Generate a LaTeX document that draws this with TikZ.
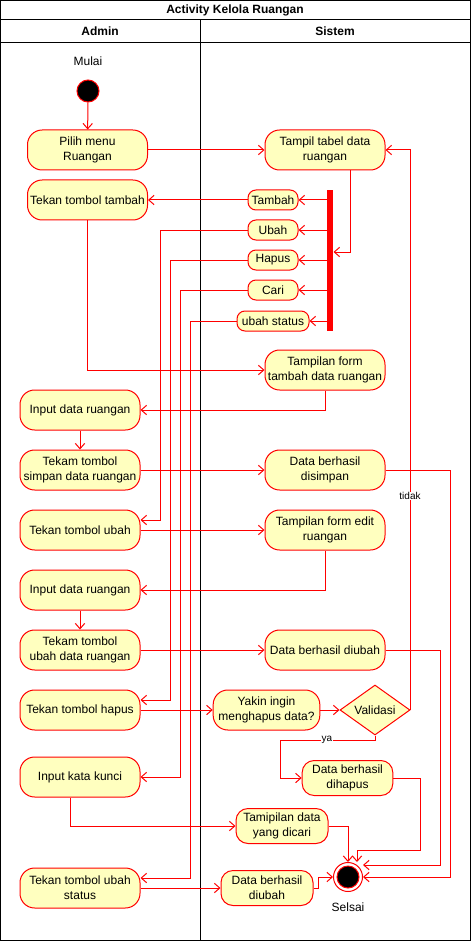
\documentclass[tikz,border=0pt]{standalone}
\usepackage{fontspec}
\setmainfont{Liberation Sans}
\usepackage{tikz}
\usetikzlibrary{arrows.meta, positioning, shapes.geometric}
\definecolor{lanered}{rgb}{1, 0, 0}
\definecolor{nodefill}{rgb}{1, 1, 0.75}

\begin{document}
\begin{tikzpicture}[x=0.75pt, y=-0.75pt, line width=0.75pt,
		every node/.style={font=\fontsize{9}{11.25}\selectfont},
		act/.style={draw=lanered, fill=nodefill, rounded corners=11pt, minimum width=90pt, minimum height=30pt, align=center, inner sep=1pt},
		actsmall/.style={act, rounded corners=9pt, minimum width=69pt, minimum height=26.25pt},
		opt/.style={draw=lanered, fill=nodefill, rounded corners=6pt, minimum width=37.5pt, minimum height=15pt, inner sep=1pt},
		flow/.style={draw=lanered, -{Straight Barb[length=4pt, width=7pt]}},
		head/.style={font=\fontsize{9}{11.25}\selectfont\bfseries},
		guard/.style={fill=white, inner sep=0.5pt, font=\fontsize{7.5}{9}\selectfont}]
		\useasboundingbox (0,0) rectangle (471,941);
		
		% lanes
		\draw (0.5,0.5) rectangle (470,940);
		\draw (0.5,20) -- (470,20);
		\draw (0.5,43) -- (470,43);
		\draw (200,20) -- (200,940);
		\node [head] (judul) at (235,10) {Activity Kelola Ruangan};
		\node [head] (admin) at (100,31.5) {Admin};
		\node [head] (sistem) at (335,31.5) {Sistem};
		
		% admin
		\node (mulai) at (88,61) {Mulai};
		\node [circle, fill=black, draw=lanered, minimum size=16.5pt, inner sep=0] (start) at (88,91) {};
		\node [act] (pilih) at (87.5,150) {Pilih menu\\Ruangan};
		\node [act] (ttambah) at (87.5,200) {Tekan tombol tambah};
		\node [act] (input1) at (80,410) {Input data ruangan};
		\node [act] (simpan) at (80,470) {Tekam tombol\\simpan data ruangan};
		\node [act] (tubah) at (80,530) {Tekan tombol ubah};
		\node [act] (input2) at (80,590) {Input data ruangan};
		\node [act] (tsubah) at (80,650) {Tekam tombol\\ubah data ruangan};
		\node [act] (thapus) at (80,710) {Tekan tombol hapus};
		\node [act] (kunci) at (80,777) {Input kata kunci};
		\node [act] (tstatus) at (80,888) {Tekan tombol ubah\\status};
		
		% sistem
		\node [act] (tampil) at (325,150) {Tampil tabel data\\ruangan};
		\node [fill=lanered, minimum width=4.5pt, minimum height=105.75pt, inner sep=0] (bar) at (330,260.5) {};
		\node [opt] (tambah) at (273,200) {Tambah};
		\node [opt] (ubah) at (273,230) {Ubah};
		\node [opt] (hapus) at (273,260) {Hapus};
		\node [opt] (cari) at (273,290) {Cari};
		\node [opt, minimum width=54pt] (ustatus) at (273,321) {ubah status};
		\node [act] (formtambah) at (325,370) {Tampilan form\\tambah data ruangan};
		\node [act] (disimpan) at (325,470) {Data berhasil\\disimpan};
		\node [act] (formedit) at (325,530) {Tampilan form edit\\ruangan};
		\node [act] (diubah) at (325,650) {Data berhasil diubah};
		\node [act, minimum width=80pt] (yakin) at (266.5,710) {Yakin ingin\\menghapus data?};
		\node [diamond, draw=lanered, fill=nodefill, minimum width=52.5pt, minimum height=37.5pt, inner sep=0] (valid) at (375,710) {Validasi};
		\node [actsmall, minimum width=68pt] (dihapus) at (347.5,778) {Data berhasil\\dihapus};
		\node [actsmall] (dicari) at (282,826) {Tamipilan data\\yang dicari};
		\node [actsmall] (diubah2) at (267,888) {Data berhasil\\diubah};
		\node [circle, draw=lanered, fill=white, minimum size=21.75pt, inner sep=0] (final) at (348,877) {};
		\fill [draw=lanered] (final.center) circle (8.25pt);
		\node (selsai) at (348,907) {Selsai};
		
		% turning points
		\coordinate (tj) at (350,252);
		\coordinate (ubahturn) at (160,520);
		\coordinate (hapusturn) at (170,700);
		\coordinate (cariturn) at (180,777);
		\coordinate (statusturn) at (190,878);
		\coordinate (simpanturn) at (450,877);
		\coordinate (diubahturn) at (440,865);
		\coordinate (yaturn) at (280,740);
		\coordinate (dihapusturn) at (420,850);
		\coordinate (dihapusx) at (357,850);
		\coordinate (kuncix) at (70,825);
		\coordinate (akhirturn) at (318,877);
		
		\draw [flow] (start) -- (pilih);
		\draw [flow] (pilih) -- (tampil);
		\draw [flow] (tampil.south -| tj) |- (bar.east |- tj);
		\foreach \o in {tambah, ubah, hapus, cari, ustatus}{
			\draw [flow] (bar.west |- \o) -- (\o.east);
		}
		\draw [flow] (tambah) -- (ttambah);
		\draw [flow] (ubah.west) -| (ubahturn) -- (tubah.east |- ubahturn);
		\draw [flow] (hapus.west) -| (hapusturn) -- (thapus.east |- hapusturn);
		\draw [flow] (cari.west) -| (cariturn) -- (kunci.east |- cariturn);
		\draw [flow] (ustatus.west) -| (statusturn) -- (tstatus.east |- statusturn);
		\draw [flow] (ttambah.south) |- (formtambah.west);
		\draw [flow] (formtambah.south) |- (input1.east);
		\draw [flow] (input1) -- (simpan);
		\draw [flow] (simpan) -- (disimpan);
		\draw [flow] (disimpan.east) -| (simpanturn) -- (final.east |- simpanturn);
		\draw [flow] (tubah) -- (formedit);
		\draw [flow] (formedit.south) |- (input2.east);
		\draw [flow] (input2) -- (tsubah);
		\draw [flow] (tsubah) -- (diubah);
		\draw [flow] (diubah.east) -| (diubahturn) -- (final.east |- diubahturn);
		\draw [flow] (thapus) -- (yakin);
		\draw [flow] (yakin) -- (valid);
		\draw [flow] (valid.east) |- (tampil.east);
		\node [guard] (tidak) at (410,496) {tidak};
		\draw [flow] (valid.south) |- (yaturn) |- (dihapus.west);
		\node [guard] (ya) at (327,740) {ya};
		\draw [flow] (dihapus.east) -| (dihapusturn) -| (dihapusx |- final.north);
		\draw [flow] (kunci.south -| kuncix) |- (dicari.west);
		\draw [flow] (dicari.east) -| (final.north);
		\draw [flow] (tstatus) -- (diubah2);
		\draw [flow] (diubah2.east) -| (akhirturn) -- (final.west);
	\end{tikzpicture}
\end{document}
